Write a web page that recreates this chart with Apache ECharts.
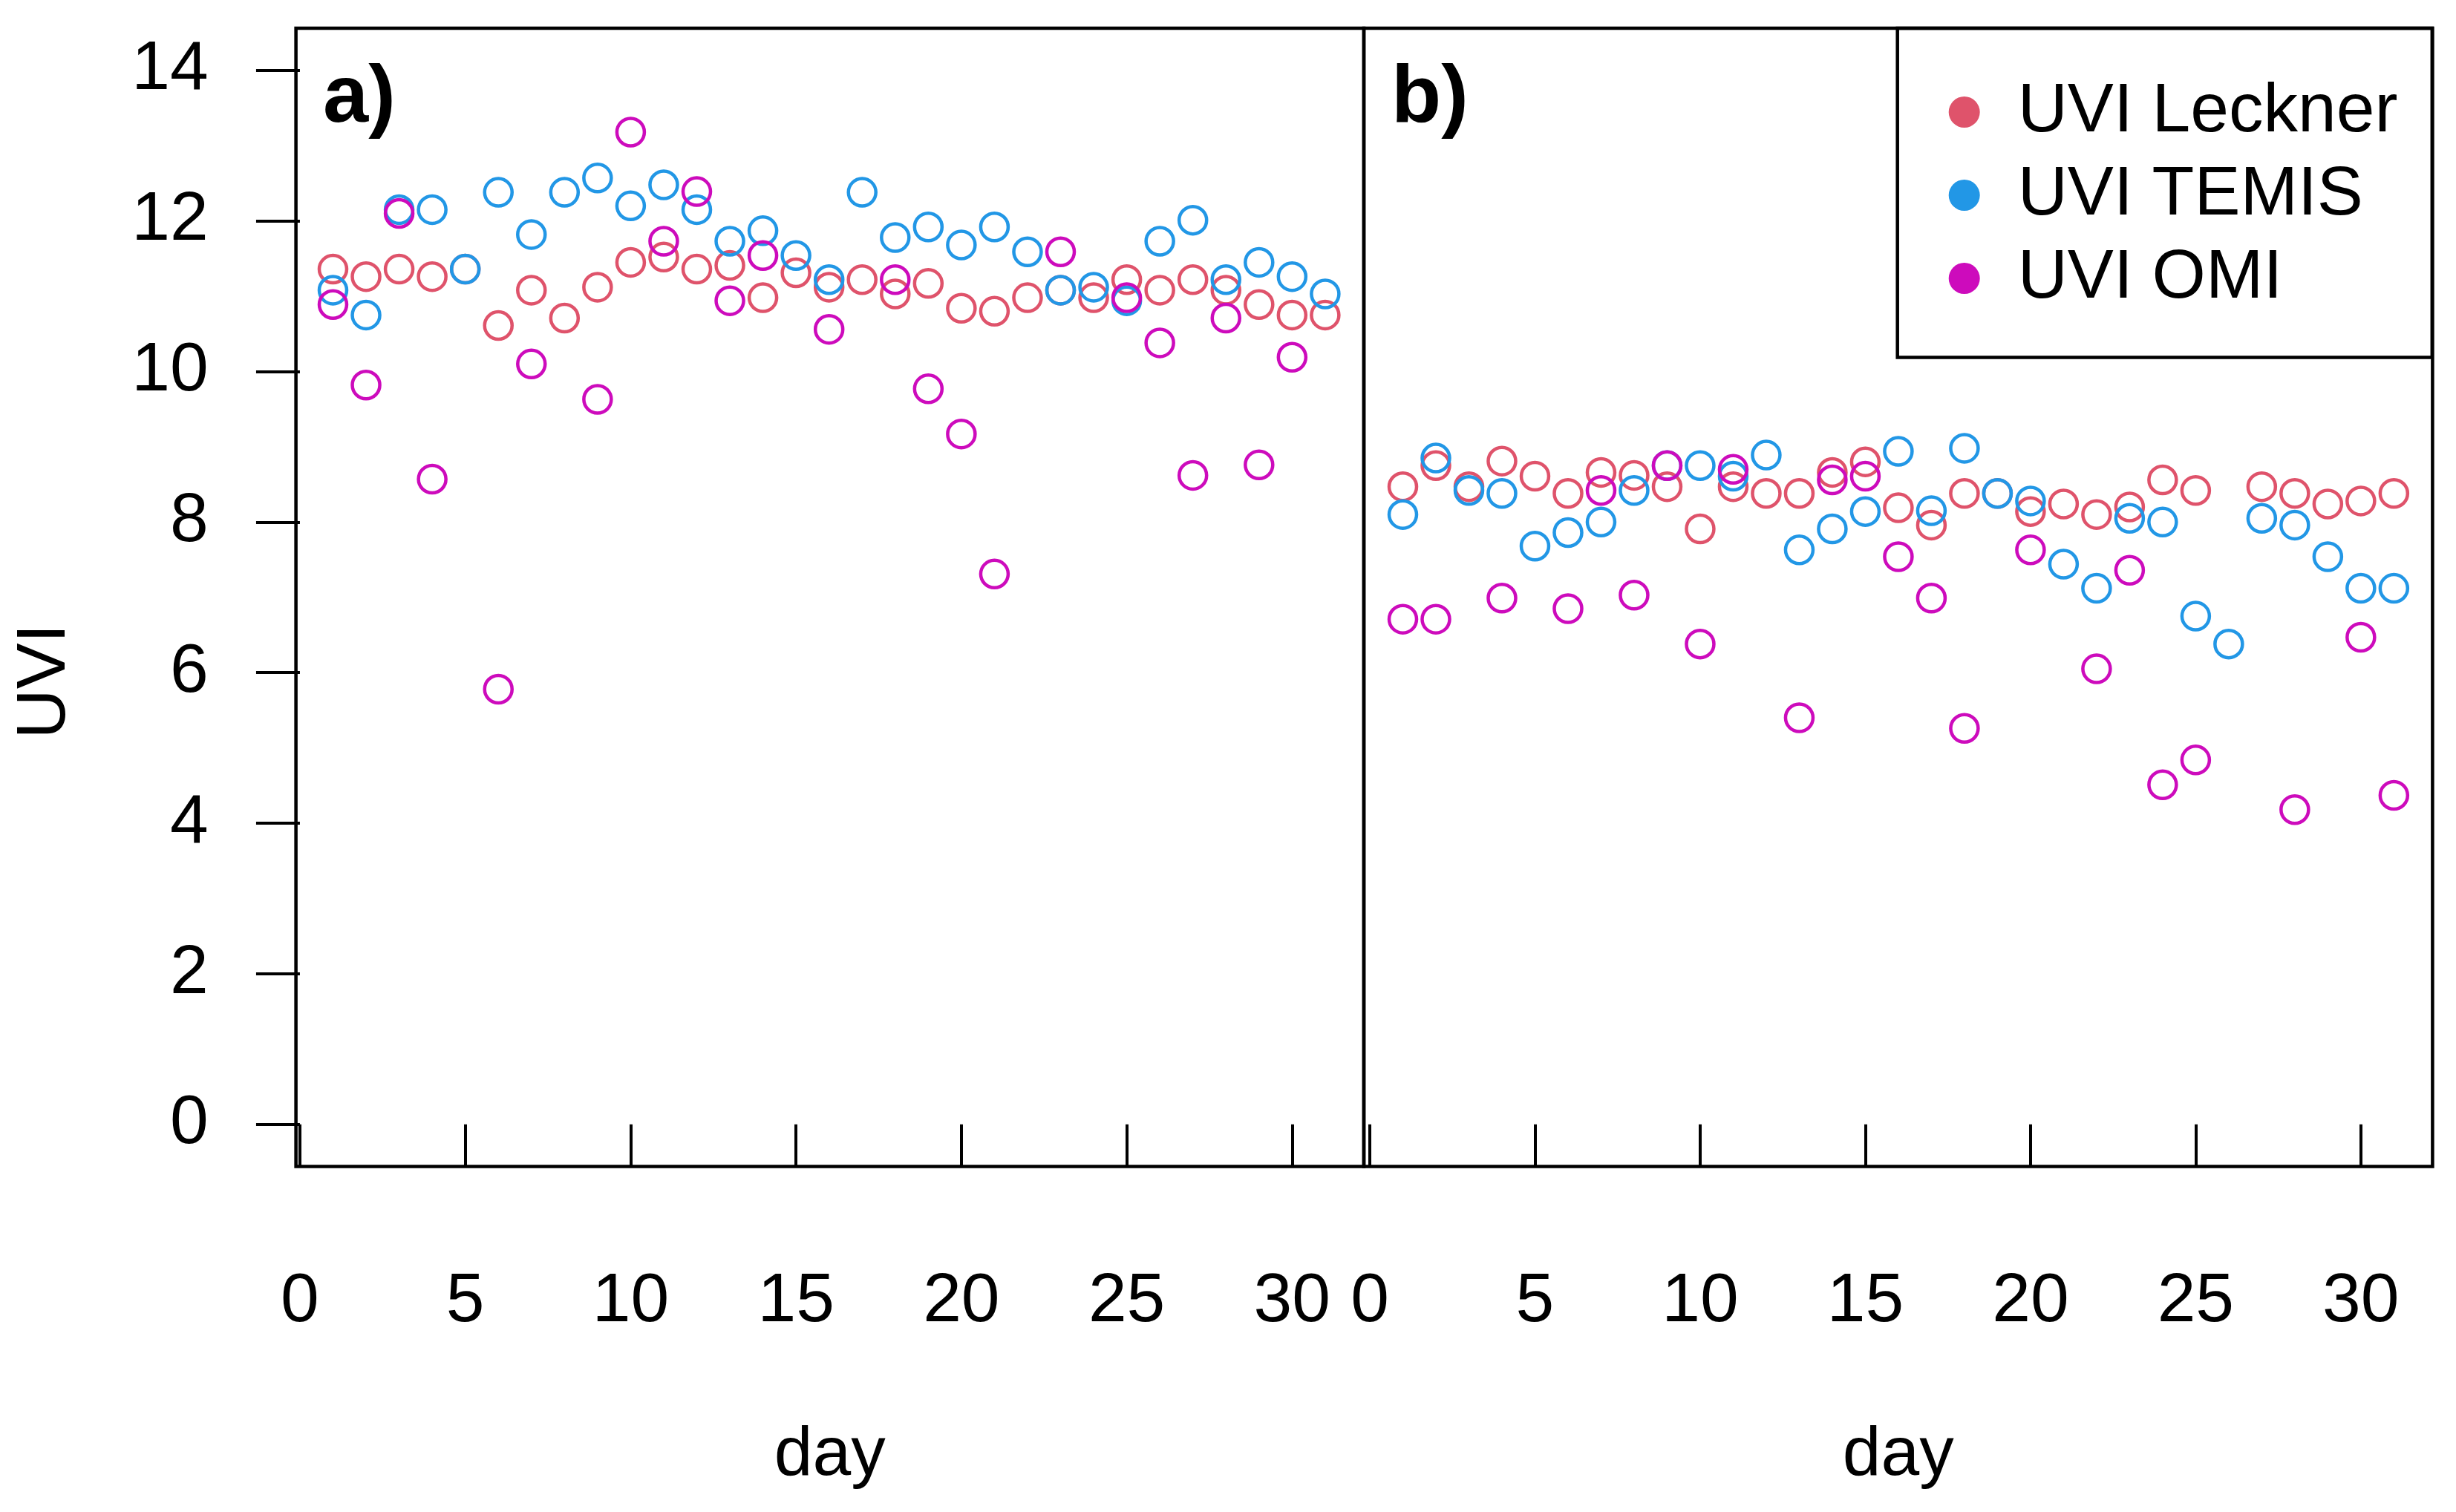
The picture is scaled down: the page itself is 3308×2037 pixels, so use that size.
<!DOCTYPE html>
<html>
<head>
<meta charset="utf-8">
<script src="https://cdn.jsdelivr.net/npm/echarts@6/dist/echarts.min.js"></script>
<style>
html,body{margin:0;padding:0;background:#fff;}
#chart{width:3308px;height:2037px;}
</style>
</head>
<body>
<div id="chart"></div>
<script>
// ---- data ----
const days = [1,2,3,4,5,6,7,8,9,10,11,12,13,14,15,16,17,18,19,20,21,22,23,24,25,26,27,28,29,30,31];
const aLeckner = [11.36,11.26,11.36,11.26,11.36,10.61,11.08,10.71,11.12,11.45,11.52,11.36,11.41,10.98,11.31,11.12,11.22,11.03,11.17,10.84,10.80,10.98,11.08,10.98,11.22,11.08,11.22,11.08,10.89,10.75,10.75];
const aTemis   = [11.08,10.75,12.15,12.15,11.36,12.38,11.82,12.38,12.57,12.20,12.48,12.15,11.73,11.87,11.54,11.22,12.38,11.78,11.92,11.68,11.92,11.59,11.08,11.12,10.94,11.73,12.01,11.22,11.45,11.26,11.03];
const aOmi     = [10.89,9.82,12.10,8.57,null,5.78,10.10,null,9.63,13.18,11.73,12.39,10.94,11.54,null,10.56,null,11.22,9.77,9.17,7.31,null,11.59,null,10.98,10.38,8.62,10.71,8.76,10.19,null];
const bLeckner = [8.47,8.75,8.47,8.81,8.61,8.38,8.66,8.62,8.47,7.91,8.47,8.38,8.38,8.66,8.80,8.19,7.96,8.38,8.38,8.14,8.24,8.10,8.20,8.56,8.42,null,8.47,8.38,8.24,8.28,8.38];
const bTemis   = [8.10,8.85,8.42,8.38,7.68,7.86,8.00,8.42,8.75,8.75,8.61,8.89,7.63,7.91,8.14,8.94,8.15,8.98,8.38,8.28,7.44,7.12,8.05,8.00,6.75,6.38,8.05,7.96,7.54,7.12,7.12];
const bOmi     = [6.71,6.71,null,6.99,null,6.85,8.42,7.03,8.75,6.38,8.70,null,5.40,8.56,8.61,7.54,6.99,5.26,null,7.63,null,6.05,7.36,4.51,4.84,null,null,4.18,null,6.47,4.37];
const seriesNames = ['UVI Leckner','UVI TEMIS','UVI OMI'];
const xTicks = [0,5,10,15,20,25,30];
const yTicks = [0,2,4,6,8,10,12,14];

// ---- styling ----
const colors = ['#DF536B','#2297E6','#CD0BBC'];
const FONT = '"Liberation Sans", Arial, sans-serif';
const FS = 93;

function pairs(vals){
  const out = [];
  days.forEach((d,i)=>{ if (vals[i] !== null) out.push([d, vals[i]]); });
  return out;
}

const panels = [[aLeckner,aTemis,aOmi],[bLeckner,bTemis,bOmi]];
const series = [];
panels.forEach((p,pi)=>{
  p.forEach((vals,si)=>{
    series.push({
      type:'scatter', name: seriesNames[si],
      xAxisIndex: pi, yAxisIndex: pi,
      data: pairs(vals),
      symbol:'circle', symbolSize: 37,
      itemStyle:{color:'rgba(0,0,0,0)', borderColor: colors[si], borderWidth: 4.5, opacity:1},
      emphasis:{disabled:true},
      z: 2 + si
    });
  });
});

const gridTop = 38, gridH = 1533.5;
const chart = echarts.init(document.getElementById('chart'), null, {renderer:'canvas', devicePixelRatio:1});
const xAxisCommon = {
  type:'value',
  axisLine:{show:false},
  splitLine:{show:false},
  axisTick:{show:true, length:57, inside:false, customValues: xTicks, lineStyle:{color:'#000', width:4}},
  axisLabel:{show:true, margin:136, customValues: xTicks, fontSize:FS, fontFamily:FONT, color:'#000'}
};
chart.setOption({
  animation:false,
  backgroundColor:'#fff',
  grid:[
    {left:398.6, top:gridTop, width:1438.4, height:gridH, show:true, borderColor:'#000', borderWidth:4.5, backgroundColor:'rgba(0,0,0,0)'},
    {left:1837, top:gridTop, width:1439.4, height:gridH, show:true, borderColor:'#000', borderWidth:4.5, backgroundColor:'rgba(0,0,0,0)'}
  ],
  xAxis:[
    Object.assign({gridIndex:0, min:-0.12, max:32.17}, xAxisCommon),
    Object.assign({gridIndex:1, min:-0.18, max:32.17}, xAxisCommon)
  ],
  yAxis:[
    {gridIndex:0, type:'value', min:-0.56, max:14.56,
     axisLine:{show:false}, splitLine:{show:false},
     axisTick:{show:true, length:59, inside:false, customValues: yTicks, lineStyle:{color:'#000', width:4}},
     axisLabel:{show:true, margin:118, customValues: yTicks, fontSize:FS, fontFamily:FONT, color:'#000'}},
    {gridIndex:1, type:'value', min:-0.56, max:14.56, show:false}
  ],
  legend:{
    orient:'vertical', left:2619.7, top:99.5,
    itemWidth:42, itemHeight:42, itemGap:19, icon:'circle', selectedMode:false,
    textStyle:{fontSize:FS, fontFamily:FONT, color:'#000', padding:[0,0,0,46]},
    data: seriesNames.map((n,i)=>({name:n, itemStyle:{color:colors[i], borderColor:colors[i], borderWidth:0, opacity:1}}))
  },
  graphic:[
    {type:'rect', shape:{x:2555.7, y:38, width:720.1, height:443.6}, style:{fill:'rgba(0,0,0,0)', stroke:'#000', lineWidth:4.5}, z:1, silent:true},
    {type:'text', x:1117.8, y:1961, style:{text:'day', font:FS+'px '+FONT, fill:'#000', textAlign:'center', textVerticalAlign:'middle'}},
    {type:'text', x:2556.7, y:1961, style:{text:'day', font:FS+'px '+FONT, fill:'#000', textAlign:'center', textVerticalAlign:'middle'}},
    {type:'text', x:61, y:918, rotation:Math.PI/2, style:{text:'UVI', font:FS+'px '+FONT, fill:'#000', textAlign:'center', textVerticalAlign:'middle'}},
    {type:'text', x:435, y:134, style:{text:'a)', font:'bold 110px '+FONT, fill:'#000', textAlign:'left', textVerticalAlign:'middle'}},
    {type:'text', x:1874, y:134, style:{text:'b)', font:'bold 110px '+FONT, fill:'#000', textAlign:'left', textVerticalAlign:'middle'}}
  ],
  series: series
});
</script>
</body>
</html>
